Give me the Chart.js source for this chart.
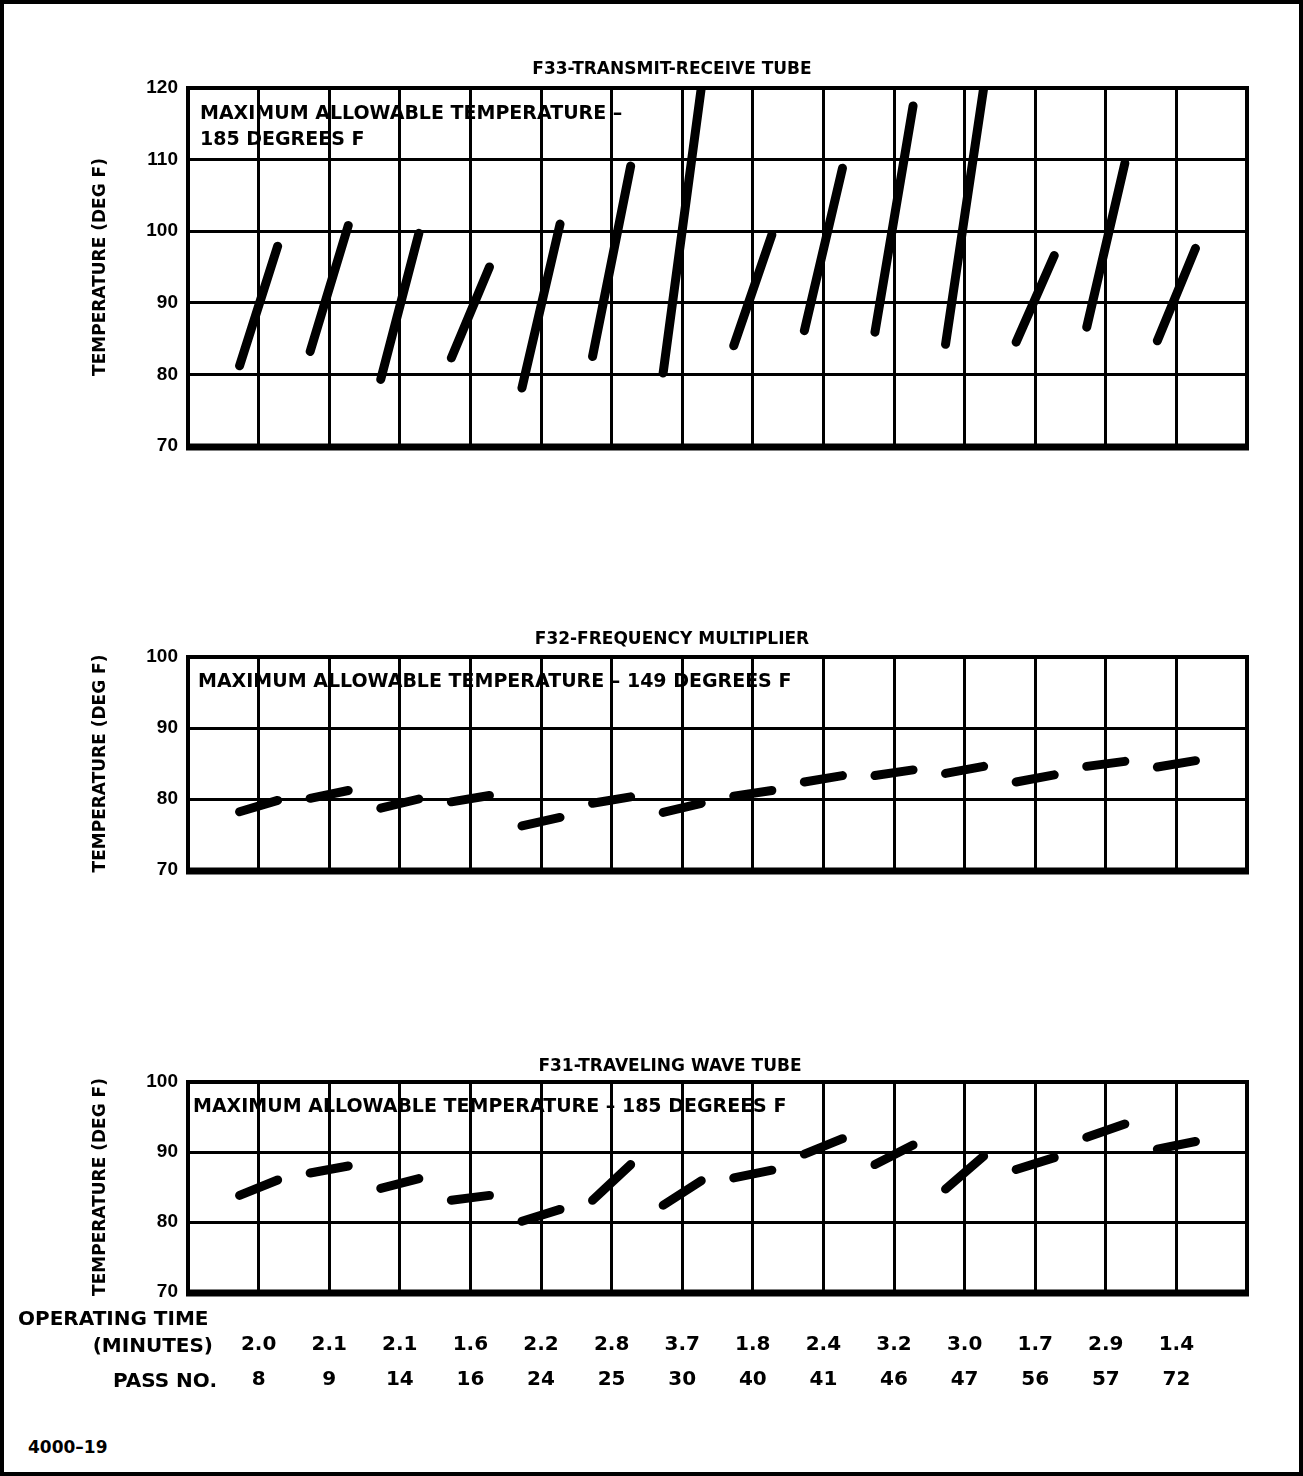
<!DOCTYPE html>
<html>
<head>
<meta charset="utf-8">
<script src="https://cdn.jsdelivr.net/npm/chart.js@4.4.1/dist/chart.umd.min.js"></script>
<style>
  body { margin: 0; background: #fff; }
  #page { position: relative; width: 1303px; height: 1476px; border: 4px solid #000; box-sizing: border-box; overflow: hidden; }
  .panel { position: absolute; left: -4px; width: 1303px; }
  .txt { position: absolute; font-family: 'DejaVu Sans', sans-serif; font-weight: bold; color: #000; white-space: nowrap; line-height: 1; }
  .ctr { transform: translate(-50%, -50%); }
  .lft { transform: translateY(-50%); }
</style>
</head>
<body>
<div id="page">
  <div class="panel" style="top:62px; height:402px;"><canvas id="chartF33"></canvas></div>
  <div class="txt ctr" style="left:668px; top:64px; font-size:17px;">F33-TRANSMIT-RECEIVE TUBE</div>
  <div class="txt lft" style="left:196px; top:108px; font-size:19px;">MAXIMUM ALLOWABLE TEMPERATURE –</div>
  <div class="txt lft" style="left:196px; top:134px; font-size:19px;">185 DEGREES F</div>

  <div class="panel" style="top:631px; height:257px;"><canvas id="chartF32"></canvas></div>
  <div class="txt ctr" style="left:668px; top:634px; font-size:17px;">F32-FREQUENCY MULTIPLIER</div>
  <div class="txt lft" style="left:194px; top:676px; font-size:19px;">MAXIMUM ALLOWABLE TEMPERATURE – 149 DEGREES F</div>

  <div class="panel" style="top:1056px; height:372px;"><canvas id="chartF31"></canvas></div>
  <div class="txt ctr" style="left:666px; top:1061px; font-size:17px;">F31-TRAVELING WAVE TUBE</div>
  <div class="txt lft" style="left:189px; top:1101px; font-size:19px;">MAXIMUM ALLOWABLE TEMPERATURE – 185 DEGREES F</div>

  <div class="txt lft" style="left:14px; top:1314px; font-size:20px;">OPERATING TIME</div>
  <div class="txt lft" style="right:1086px; top:1341px; font-size:20px;">(MINUTES)</div>
  <div class="txt lft" style="right:1082px; top:1376px; font-size:20px;">PASS NO.</div>
  <div class="txt lft" style="left:24px; top:1443px; font-size:17px;">4000–19</div>
</div>

<script>
// ---------- DATA (one entry per pass)
var passNo        = ['8', '9', '14', '16', '24', '25', '30', '40', '41', '46', '47', '56', '57', '72'];
var operatingTime = ['2.0', '2.1', '2.1', '1.6', '2.2', '2.8', '3.7', '1.8', '2.4', '3.2', '3.0', '1.7', '2.9', '1.4'];

// F33 TRANSMIT-RECEIVE TUBE: temperature at start / end of pass
var f33Start = [81.2, 83.2, 79.3, 82.3, 78.1, 82.5, 80.2, 84.0, 86.1, 85.9, 84.2, 84.5, 86.6, 84.7];
var f33End   = [97.9, 100.8, 99.7, 95.0, 101.0, 109.1, 120.0, 99.5, 108.8, 117.5, 120.0, 96.6, 109.5, 97.6];

// F32 FREQUENCY MULTIPLIER
var f32Start = [78.2, 80.1, 78.7, 79.6, 76.2, 79.4, 78.1, 80.4, 82.4, 83.3, 83.6, 82.4, 84.6, 84.5];
var f32End   = [79.8, 81.2, 80.0, 80.5, 77.4, 80.3, 79.4, 81.2, 83.3, 84.1, 84.6, 83.4, 85.3, 85.4];

// F31 TRAVELING WAVE TUBE
var f31Start = [83.8, 87.0, 84.8, 83.1, 80.1, 83.1, 82.4, 86.3, 89.7, 88.2, 84.7, 87.5, 92.1, 90.4];
var f31End   = [86.0, 88.0, 86.2, 83.8, 81.8, 88.2, 85.9, 87.4, 91.9, 91.0, 89.4, 89.2, 94.0, 91.5];

var yTicksF33 = [70, 120];
var yTicksF32 = [70, 100];
var yTicksF31 = [70, 100];

// half width of each pass stroke, in x units
var HALF = 0.27;

Chart.defaults.font.family = "'DejaVu Sans', sans-serif";
Chart.defaults.font.weight = 'bold';
Chart.defaults.color = '#000';

// draws the heavy box round the plot area
var framePlugin = {
    id: 'frame',
    afterDraw: function(chart) {
        var a = chart.chartArea;
        var ctx = chart.ctx;
        ctx.save();
        ctx.strokeStyle = '#000';
        ctx.lineWidth = 4;
        ctx.strokeRect(a.left, a.top, a.right - a.left, a.bottom - a.top);
        ctx.lineWidth = 7;
        ctx.beginPath();
        ctx.moveTo(a.left - 2, a.bottom + 1);
        ctx.lineTo(a.right + 2, a.bottom + 1);
        ctx.stroke();
        ctx.restore();
    }
};

function passSegments(starts, ends) {
    var pts = [];
    for (var i = 0; i < starts.length; i++) {
        pts.push({x: i - HALF, y: starts[i]});
        pts.push({x: i + HALF, y: ends[i]});
        pts.push({x: i, y: null});   // break between passes
    }
    return pts;
}

function makePanel(canvasId, yRange, starts, ends, withLabels) {
    var ctx = document.getElementById(canvasId).getContext('2d');
    return new Chart(ctx, {
        type: 'line',
        data: {
            datasets: [{
                data: passSegments(starts, ends),
                borderColor: '#000',
                borderWidth: 9,
                borderCapStyle: 'round',
                borderJoinStyle: 'round',
                pointRadius: 0,
                spanGaps: false,
                tension: 0
            }]
        },
        plugins: [framePlugin],
        options: {
            animation: false,
            responsive: true,
            maintainAspectRatio: false,
            layout: { padding: { left: 0, right: 56, top: 22, bottom: withLabels ? 0 : 22 } },
            plugins: { legend: { display: false }, tooltip: { enabled: false } },
            scales: {
                x: {
                    type: 'linear',
                    min: -1,
                    max: passNo.length,
                    border: { display: false },
                    grid: { color: '#000', lineWidth: 3, drawTicks: false },
                    ticks: {
                        display: withLabels,
                        stepSize: 1,
                        autoSkip: false,
                        maxRotation: 0,
                        padding: 35,
                        font: { size: 20, weight: 'bold', lineHeight: 1.75 },
                        callback: function(value) {
                            if (value < 0 || value >= passNo.length) return '';
                            return [operatingTime[value], passNo[value]];
                        }
                    }
                },
                y: {
                    min: yRange[0],
                    max: yRange[1],
                    border: { display: false },
                    grid: { color: '#000', lineWidth: 3, drawTicks: false },
                    ticks: {
                        stepSize: 10,
                        padding: 10,
                        font: { family: "'Liberation Sans', Arial, sans-serif", size: 19, weight: 'bold' }
                    },
                    title: {
                        display: true,
                        text: 'TEMPERATURE (DEG F)',
                        font: { size: 17, weight: 'bold' },
                        padding: { top: 90, bottom: 0 }
                    },
                    afterFit: function(scale) { scale.width = 188; }
                }
            }
        }
    });
}

makePanel('chartF33', yTicksF33, f33Start, f33End, false);
makePanel('chartF32', yTicksF32, f32Start, f32End, false);
makePanel('chartF31', yTicksF31, f31Start, f31End, true);
</script>
</body>
</html>
